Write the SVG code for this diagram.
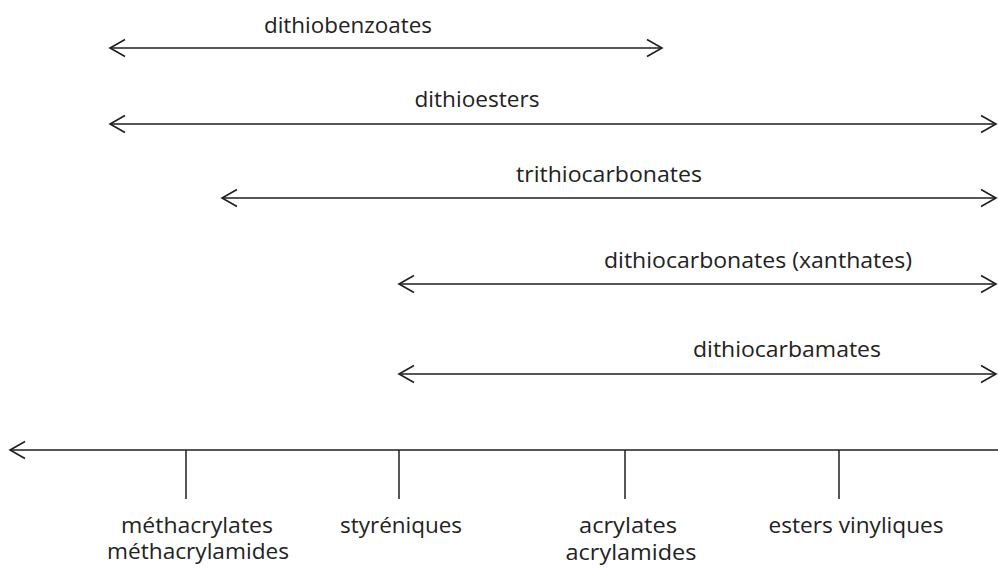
<svg xmlns="http://www.w3.org/2000/svg" width="998" height="568" viewBox="0 0 998 568">
  <style>
    .ln { stroke: #1e1e1e; stroke-width: 1.5; fill: none; }
    .arr { marker-start: url(#head); marker-end: url(#head); }
    .lbl { font-family: "Open Sans", "Liberation Sans", sans-serif; font-size: 22.5px; fill: #222; text-anchor: middle; }
  </style>
  <defs>
    <marker id="head" markerUnits="userSpaceOnUse" viewBox="-17 -10 19 20" refX="0" refY="0" markerWidth="19" markerHeight="20" orient="auto-start-reverse" overflow="visible">
      <path d="M -15 -8.5 L 0 0 L -15 8.5" fill="none" stroke="#1e1e1e" stroke-width="1.6"/>
    </marker>
  </defs>
  <rect width="998" height="568" fill="#ffffff"/>

  <g id="connectors">
    <line id="r-dithiobenzoates" class="ln arr" x1="110" y1="48" x2="662" y2="48"/>
    <line id="r-dithioesters" class="ln arr" x1="110" y1="124" x2="996" y2="124"/>
    <line id="r-trithiocarbonates" class="ln arr" x1="222" y1="198" x2="996" y2="198"/>
    <line id="r-xanthates" class="ln arr" x1="399" y1="284" x2="996" y2="284"/>
    <line id="r-dithiocarbamates" class="ln arr" x1="399" y1="374" x2="996" y2="374"/>
    <line id="axis" class="ln" x1="10" y1="450" x2="998" y2="450" marker-start="url(#head)"/>
    <line class="ln" x1="186" y1="450" x2="186" y2="499"/>
    <line class="ln" x1="399" y1="450" x2="399" y2="499"/>
    <line class="ln" x1="625" y1="450" x2="625" y2="499"/>
    <line class="ln" x1="839" y1="450" x2="839" y2="499"/>
  </g>

  <g id="label-dithiobenzoates"><text class="lbl" x="348" y="33" textLength="168" lengthAdjust="spacingAndGlyphs">dithiobenzoates</text></g>
  <g id="label-dithioesters"><text class="lbl" x="477" y="107" textLength="125" lengthAdjust="spacingAndGlyphs">dithioesters</text></g>
  <g id="label-trithiocarbonates"><text class="lbl" x="609" y="182" textLength="186" lengthAdjust="spacingAndGlyphs">trithiocarbonates</text></g>
  <g id="label-xanthates"><text class="lbl" x="758" y="268" textLength="308" lengthAdjust="spacingAndGlyphs">dithiocarbonates (xanthates)</text></g>
  <g id="label-dithiocarbamates"><text class="lbl" x="787" y="357" textLength="188" lengthAdjust="spacingAndGlyphs">dithiocarbamates</text></g>

  <g id="monomer-methacrylates">
    <text class="lbl" x="197" y="533" textLength="152" lengthAdjust="spacingAndGlyphs">méthacrylates</text>
    <text class="lbl" x="198" y="559" textLength="182" lengthAdjust="spacingAndGlyphs">méthacrylamides</text>
  </g>
  <g id="monomer-styreniques">
    <text class="lbl" x="401" y="533" textLength="122" lengthAdjust="spacingAndGlyphs">styréniques</text>
  </g>
  <g id="monomer-acrylates">
    <text class="lbl" x="628" y="533" textLength="98" lengthAdjust="spacingAndGlyphs">acrylates</text>
    <text class="lbl" x="631" y="560" textLength="131" lengthAdjust="spacingAndGlyphs">acrylamides</text>
  </g>
  <g id="monomer-esters-vinyliques">
    <text class="lbl" x="856" y="533" textLength="175" lengthAdjust="spacingAndGlyphs">esters vinyliques</text>
  </g>
</svg>
